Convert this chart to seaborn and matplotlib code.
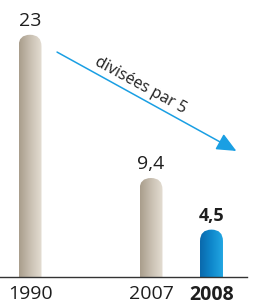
import numpy as np
import pandas as pd
import matplotlib
matplotlib.use("Agg")
import matplotlib.pyplot as plt
import seaborn as sns
from matplotlib.patches import FancyBboxPatch
from matplotlib.colors import LinearSegmentedColormap

# ---- data ----
years = ["1990", "2007", "2008"]
values = [23, 9.4, 4.5]
value_labels = ["23", "9,4", "4,5"]
highlight = "2008"
order = ["1990", " ", "2007", "2008"]   # blank slot creates the gap
arrow_text = "divisées par 5"

sns.set_theme(style="white")
plt.rcParams["font.family"] = ["Open Sans", "DejaVu Sans"]

fig = plt.figure(figsize=(2.55, 3.04), dpi=100)
ax = fig.add_axes([0, 27 / 304, 247 / 255, 277 / 304])

df = pd.DataFrame({"year": years, "value": values})
sns.barplot(data=df, x="year", y="value", order=order, width=0.38,
            color="#cccccc", ax=ax)

XLIM = (-0.496, 3.587)
YLIM = (0, 26.3)
ax.set_xlim(*XLIM)
ax.set_ylim(*YLIM)

# pixel scale for round caps
p0 = ax.transData.transform((0, 0))
p1 = ax.transData.transform((1, 1))
aspect = (p1[0] - p0[0]) / (p1[1] - p0[1])

grey_cmap = LinearSegmentedColormap.from_list("g", ["#a99d8c", "#c9c0b2", "#e4ddd2"])
blue_cmap = LinearSegmentedColormap.from_list("b", ["#0a69ac", "#0f88cc", "#22a6e2"])
grad = np.linspace(0, 1, 64).reshape(1, -1)

bars = [p for p in ax.patches]
for bar, yr, lab in zip(bars, years, value_labels):
    x0 = bar.get_x()
    w = bar.get_width()
    h = bar.get_height()
    bar.set_visible(False)
    r = w / 2
    below = 3
    patch = FancyBboxPatch((x0, -below), w, h + below,
                           boxstyle=f"round,pad=0,rounding_size={r}",
                           mutation_aspect=aspect,
                           facecolor="none", edgecolor="none", zorder=2)
    ax.add_patch(patch)
    cmap = blue_cmap if yr == highlight else grey_cmap
    im = ax.imshow(grad, extent=[x0, x0 + w, -below, h], aspect="auto",
                   cmap=cmap, interpolation="bilinear", zorder=2)
    im.set_clip_path(patch)
    bold = yr == highlight
    ax.annotate(lab, (x0 + w / 2, h), xytext=(0, 3.5), textcoords="offset points",
                ha="center", va="bottom", fontsize=14 if not bold else 13,
                fontweight="bold" if bold else "normal", color="#1e1e1e")

ax.set_xlim(*XLIM)
ax.set_ylim(*YLIM)

# arrow + text
ax.annotate("", xy=(0.957, 0.455), xytext=(0.231, 0.812), xycoords="axes fraction",
            arrowprops=dict(arrowstyle="-|>,head_length=1.0,head_width=0.45",
                            color="#1a9fe3", lw=1.1, shrinkA=0, shrinkB=0))
ax.text(0.567, 0.693, arrow_text, transform=ax.transAxes, rotation=-28.7,
        rotation_mode="anchor", ha="center", va="center", fontsize=11.5,
        color="#1e1e1e")

# axes styling
for s in ["top", "right", "left"]:
    ax.spines[s].set_visible(False)
ax.spines["bottom"].set_color("#333333")
ax.spines["bottom"].set_linewidth(1.0)
ax.spines["bottom"].set_zorder(5)
ax.set_yticks([])
ax.set_xlabel("")
ax.set_ylabel("")
ax.tick_params(axis="x", length=0, pad=6, labelsize=14, labelcolor="#1e1e1e")
ax.set_xticks(range(len(order)))
ax.set_xticklabels(order)
for t in ax.get_xticklabels():
    if t.get_text() == highlight:
        t.set_fontweight("bold")
ax.patch.set_visible(False)

fig.savefig("out.png", dpi=100)
